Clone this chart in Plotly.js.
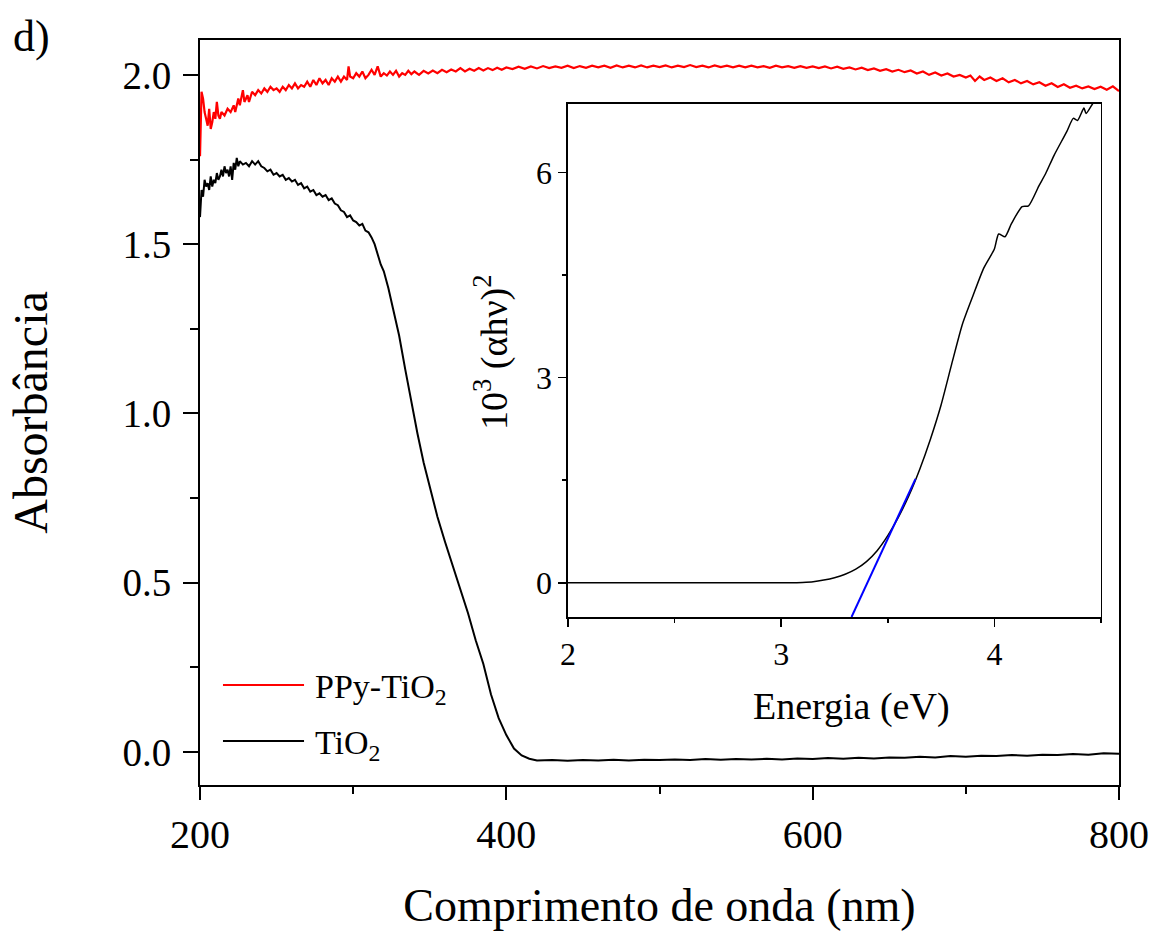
<!DOCTYPE html>
<html>
<head>
<meta charset="utf-8">
<script src="https://cdn.plot.ly/plotly-3.0.1.min.js"></script>
<style>html,body{margin:0;padding:0;background:#fff;}#chart{width:1156px;height:931px;}</style>
</head>
<body>
<div id="chart"></div>
<script>
// ---- Main panel: PPy-TiO2 ----
const ppyWavelength = [200,201,202,203,204,205,206,207,208,209,210,211,212,213,214,216,218,220,222,223,225,226,228,229,231,232,234,236,238,240,242,244,246,248,250,252,254,256,258,260,262,264,266,268,270,272,274,276,278,280,282,284,286,288,290,292,294,296,297,298,300,302,304,306,308,310,312,314,316,318,320,322,324,326,328,330,332,334,336,338,340,343,346,349,352,355,358,361,364,367,370,373,376,379,382,385,388,391,394,397,400,404,408,412,416,420,424,428,432,436,440,444,448,452,456,460,464,468,472,476,480,484,488,492,496,500,504,508,512,516,520,524,528,532,536,540,544,548,552,556,560,564,568,572,576,580,584,588,592,596,600,604,608,612,616,620,624,628,632,636,640,644,648,652,656,660,664,668,672,676,680,684,688,692,696,700,703,706,709,712,716,720,724,728,732,736,740,744,748,752,756,760,764,768,772,776,780,784,788,792,796,800];
const ppyAbs = [1.76,1.95,1.93,1.89,1.87,1.85,1.90,1.84,1.86,1.89,1.87,1.92,1.88,1.87,1.89,1.88,1.90,1.89,1.91,1.89,1.93,1.91,1.955,1.92,1.94,1.92,1.95,1.94,1.955,1.945,1.96,1.95,1.965,1.955,1.96,1.95,1.965,1.955,1.97,1.96,1.975,1.96,1.97,1.965,1.98,1.965,1.985,1.97,1.99,1.975,1.985,1.97,1.99,1.98,1.995,1.98,1.995,1.985,2.025,1.995,1.99,2.005,1.995,2.01,1.99,2.0,2.015,2.0,2.025,1.995,2.005,1.998,2.01,2.0,2.012,1.995,2.005,2.0,2.012,2.002,2.01,2.0,2.012,2.004,2.013,2.005,2.015,2.008,2.016,2.01,2.02,2.01,2.018,2.012,2.02,2.013,2.02,2.014,2.021,2.015,2.022,2.017,2.024,2.018,2.025,2.019,2.026,2.02,2.025,2.021,2.027,2.02,2.026,2.021,2.027,2.022,2.027,2.021,2.028,2.022,2.027,2.022,2.028,2.022,2.027,2.023,2.028,2.022,2.027,2.023,2.029,2.023,2.027,2.022,2.028,2.023,2.027,2.022,2.027,2.022,2.027,2.022,2.026,2.021,2.027,2.022,2.026,2.021,2.026,2.021,2.025,2.02,2.025,2.019,2.024,2.018,2.022,2.016,2.021,2.014,2.019,2.012,2.017,2.01,2.015,2.008,2.013,2.004,2.01,2.0,2.007,1.998,2.004,1.995,2.0,1.992,1.998,1.982,1.995,1.985,1.992,1.982,1.99,1.978,1.985,1.975,1.982,1.972,1.978,1.968,1.975,1.964,1.972,1.962,1.968,1.96,1.966,1.958,1.965,1.956,1.966,1.952];

// ---- Main panel: TiO2 ----
const tioWavelength = [200,201,202,203,204,205,206,207,208,209,210,211,212,213,214,215,216,217,218,219,220,221,222,223,224,225,226,228,230,232,234,236,238,240,242,244,246,248,250,252,254,256,258,260,262,264,266,268,270,272,274,276,278,280,282,284,286,288,290,292,294,296,298,300,302,304,306,308,310,312,314,316,318,320,323,326,330,334,338,342,346,350,355,360,365,370,375,380,385,390,395,400,405,410,415,420,430,440,450,460,470,480,490,500,510,520,530,540,550,560,570,580,590,600,610,620,630,640,650,660,670,680,690,700,710,720,730,740,750,760,770,780,790,800];
const tioAbs = [1.58,1.66,1.64,1.69,1.67,1.68,1.66,1.70,1.67,1.69,1.68,1.71,1.69,1.70,1.72,1.70,1.73,1.71,1.72,1.70,1.73,1.69,1.74,1.72,1.755,1.73,1.745,1.735,1.74,1.73,1.745,1.735,1.745,1.73,1.725,1.715,1.72,1.705,1.71,1.70,1.705,1.69,1.695,1.685,1.69,1.675,1.68,1.665,1.67,1.655,1.66,1.645,1.65,1.64,1.645,1.63,1.635,1.62,1.615,1.60,1.595,1.58,1.585,1.57,1.565,1.555,1.56,1.54,1.535,1.52,1.50,1.47,1.44,1.42,1.37,1.31,1.23,1.13,1.03,0.94,0.855,0.78,0.695,0.62,0.55,0.48,0.41,0.33,0.26,0.17,0.10,0.05,0.01,-0.01,-0.02,-0.025,-0.024,-0.026,-0.024,-0.025,-0.023,-0.025,-0.023,-0.024,-0.022,-0.024,-0.021,-0.023,-0.021,-0.022,-0.02,-0.022,-0.019,-0.021,-0.018,-0.02,-0.017,-0.019,-0.016,-0.017,-0.014,-0.016,-0.012,-0.014,-0.011,-0.012,-0.009,-0.011,-0.008,-0.009,-0.006,-0.008,-0.004,-0.005];

// ---- Inset: Tauc plot ----
const taucEnergy = [2.0,2.5,3.0,3.05,3.1,3.15,3.2,3.25,3.3,3.35,3.4,3.45,3.5,3.55,3.6,3.65,3.7,3.75,3.8,3.85,3.9,3.95,4.0,4.02,4.05,4.08,4.13,4.16,4.21,4.24,4.28,4.34,4.37,4.39,4.42,4.43,4.46,4.48];
const taucValue = [0,0,0,0,0.005,0.015,0.04,0.075,0.125,0.2,0.31,0.47,0.69,0.96,1.28,1.66,2.1,2.6,3.2,3.78,4.2,4.6,4.88,5.1,5.06,5.25,5.5,5.51,5.81,5.98,6.25,6.6,6.79,6.76,6.94,6.86,7.0,7.1];
const fitEnergy = [3.33,3.63];
const fitValue = [-0.5,1.52];

// ---- Labels ----
const seriesNames = ['PPy-TiO<sub>2</sub>','TiO<sub>2</sub>'];
const seriesColors = ['#ff0000','#000000'];
const panelLabel = 'd)';
const xTitle = 'Comprimento de onda (nm)';
const yTitle = 'Absorbância';
const insetXTitle = 'Energia (eV)';
const insetYTitle = '10<sup>3</sup> (αhν)<sup>2</sup>';

const FONT = 'Liberation Serif, Times New Roman, serif';

const traces = [
  {x: ppyWavelength, y: ppyAbs, mode:'lines', line:{color:seriesColors[0], width:2.2}, name:'PPy-TiO2', xaxis:'x', yaxis:'y', showlegend:false},
  {x: tioWavelength, y: tioAbs, mode:'lines', line:{color:seriesColors[1], width:2}, name:'TiO2', xaxis:'x', yaxis:'y', showlegend:false},
  {x: taucEnergy, y: taucValue, mode:'lines', line:{color:'#000', width:1.5, shape:'spline', smoothing:0.6}, name:'Tauc', xaxis:'x2', yaxis:'y2', showlegend:false},
  {x: fitEnergy, y: fitValue, mode:'lines', line:{color:'#0000ff', width:2}, name:'Ajuste', xaxis:'x2', yaxis:'y2', showlegend:false}
];

const axisCommon = {showgrid:false, zeroline:false, showline:true, mirror:true, linecolor:'#000', ticks:'outside', tickcolor:'#000'};

const layout = {
  width:1156, height:931,
  margin:{l:200, r:37, t:40, b:146},
  paper_bgcolor:'#fff', plot_bgcolor:'#fff',
  font:{family:FONT, color:'#000'},
  showlegend:false,
  xaxis: Object.assign({}, axisCommon, {
    domain:[0,1], range:[200,800], tick0:200, dtick:200, linewidth:2, ticklen:13, tickwidth:2,
    tickfont:{size:40, family:FONT}, minor:{dtick:100, ticklen:7, tickwidth:2, tickcolor:'#000', ticks:'outside'},
    title:{text:xTitle, font:{size:46, family:FONT}, standoff:34}, automargin:false
  }),
  yaxis: Object.assign({}, axisCommon, {
    domain:[0,1], range:[-0.0975,2.103], tick0:0, dtick:0.5, tickformat:'.1f', linewidth:2, ticklen:15, tickwidth:2,
    tickfont:{size:39, family:FONT}, minor:{dtick:0.25, ticklen:8, tickwidth:2, tickcolor:'#000', ticks:'outside'},
    ticklabelstandoff:4,
    title:{text:yTitle, font:{size:48, family:FONT}, standoff:60}, automargin:false
  }),
  xaxis2: Object.assign({}, axisCommon, {
    anchor:'y2', domain:[0.4004,0.9804], range:[2,4.5], tick0:2, dtick:1, linewidth:1.5, ticklen:8, tickwidth:1.5,
    tickfont:{size:32, family:FONT}, minor:{dtick:0.5, ticklen:4, tickwidth:1.5, tickcolor:'#000', ticks:'outside'},
    automargin:false
  }),
  yaxis2: Object.assign({}, axisCommon, {
    anchor:'x2', domain:[0.2255,0.9141], range:[-0.5,7], tick0:0, dtick:3, linewidth:1.5, ticklen:8, tickwidth:1.5,
    tickfont:{size:32, family:FONT}, minor:{dtick:1.5, ticklen:4, tickwidth:1.5, tickcolor:'#000', ticks:'outside'},
    automargin:false
  }),
  shapes:[
    {type:'line', xref:'paper', yref:'paper', x0:0.025, x1:0.1132, y0:0.1342, y1:0.1342, line:{color:seriesColors[0], width:2}},
    {type:'line', xref:'paper', yref:'paper', x0:0.025, x1:0.1132, y0:0.0591, y1:0.0591, line:{color:seriesColors[1], width:2}}
  ],
  annotations:[
    {text:seriesNames[0], xref:'paper', yref:'paper', x:0.123, y:0.1342, xanchor:'left', yanchor:'middle', yshift:-4, showarrow:false, font:{size:34, family:FONT, color:'#000'}},
    {text:seriesNames[1], xref:'paper', yref:'paper', x:0.123, y:0.0591, xanchor:'left', yanchor:'middle', yshift:-4, showarrow:false, font:{size:34, family:FONT, color:'#000'}},
    {text:panelLabel, xref:'paper', yref:'paper', x:-0.206, y:1.04, xanchor:'left', yanchor:'top', showarrow:false, font:{size:44, family:FONT, color:'#000'}},
    {text:insetXTitle, xref:'paper', yref:'paper', x:0.7084, y:0.1047, xanchor:'center', yanchor:'middle', showarrow:false, font:{size:38, family:FONT, color:'#000'}},
    {text:insetYTitle, xref:'paper', yref:'paper', x:0.3166, y:0.5812, xanchor:'center', yanchor:'middle', textangle:-90, showarrow:false, font:{size:38, family:FONT, color:'#000'}}
  ]
};

Plotly.newPlot('chart', traces, layout, {displayModeBar:false, staticPlot:true});
</script>
</body>
</html>
